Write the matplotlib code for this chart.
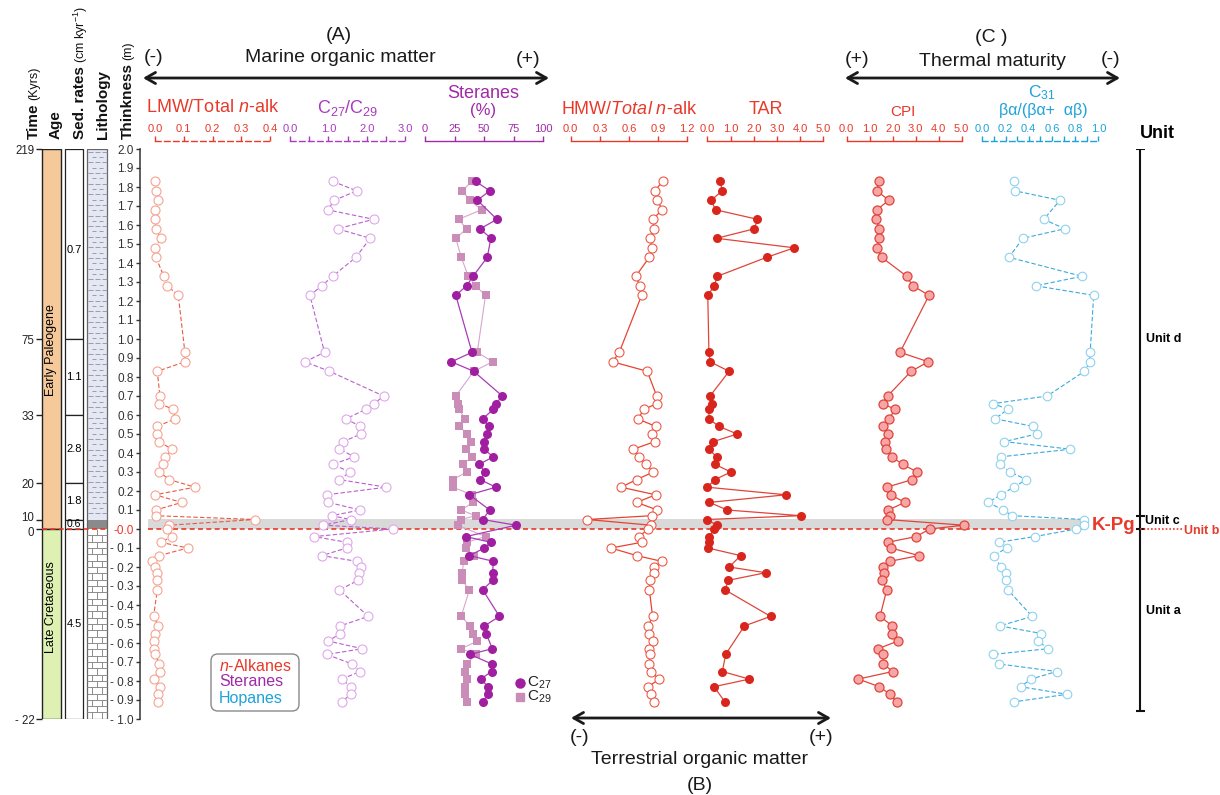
import numpy as np
import matplotlib
matplotlib.use('Agg')
import matplotlib.pyplot as plt
import matplotlib.transforms as mtransforms
from matplotlib import font_manager as fm
from matplotlib.patches import Rectangle, FancyBboxPatch

W, H = 1220, 795
nan = np.nan

# ---------------- data ----------------
DEPTH = [1.83, 1.78, 1.73, 1.68, 1.63, 1.58, 1.53, 1.48, 1.43, 1.33, 1.28, 1.23,
         0.93, 0.88, 0.83, 0.70, 0.66, 0.63, 0.58, 0.54, 0.50, 0.46, 0.42, 0.38,
         0.34, 0.30, 0.26, 0.22, 0.18, 0.14, 0.10, 0.07, 0.05, 0.02, 0.00, -0.04,
         -0.07, -0.10, -0.14, -0.17, -0.20, -0.23, -0.27, -0.32, -0.46, -0.51, -0.55,
         -0.59, -0.63, -0.66, -0.71, -0.75, -0.79, -0.83, -0.87, -0.91]

LMW = [0.00, 0.003, 0.012, 0.00, 0.00, 0.003, 0.020, 0.00, 0.003, 0.031, 0.043, 0.081,
       0.104, 0.104, 0.008, 0.017, 0.015, 0.064, 0.070, 0.008, 0.008, 0.013, 0.060, 0.035,
       0.027, 0.015, 0.050, 0.139, 0.00, 0.093, 0.003, 0.003, 0.348, 0.050, 0.040, 0.058,
       0.020, 0.114, 0.015, -0.010, 0.00, 0.008, 0.008, 0.008, -0.005, 0.012, 0.00,
       -0.003, -0.003, 0.00, 0.015, 0.017, -0.003, 0.017, 0.012, 0.012]

C27_C29 = [1.11, 1.74, 1.16, 0.98, 2.18, 1.24, 2.09, nan, 1.72, 1.11, 0.83, 0.52,
           0.90, 0.39, 1.03, 2.44, 2.20, 1.98, 1.46, 1.83, 1.85, 1.39, 1.29, 1.68,
           1.11, 1.57, 1.29, 2.51, 0.96, 1.00, 1.83, 1.09, 1.58, 0.87, 2.68, 0.63,
           1.48, 1.48, 0.83, 1.74, 1.85, 1.80, 1.78, 1.29, 2.04, 1.31, 1.31,
           1.00, 1.89, 0.96, 1.61, 1.83, 1.35, 1.58, 1.58, 1.35]

STER_C27 = [42.8, 54.9, 44.3, nan, 61.0, 46.7, 55.8, nan, 52.8, 40.7, 35.2, 26.1,
            39.8, 22.4, 41.3, 65.5, 60.1, 57.9, 48.9, 54.3, 52.8, 49.8, 49.8, 57.9,
            45.8, 51.0, 46.7, 60.1, 37.6, nan, 54.9, nan, 48.9, 77.1, nan, 34.6,
            55.8, 50.4, 37.6, 57.9, nan, 57.3, 57.3, 48.9, 63.1, 50.4, 51.9,
            nan, 57.0, 38.2, 56.4, 56.4, 47.3, 53.4, 53.4, 48.9]

STER_C29 = [39.8, 31.5, 38.2, 47.9, 28.5, 35.2, 26.1, nan, 30.7, 36.7, 42.8, 51.3,
            44.3, 57.3, 41.3, 26.1, 27.6, 29.1, 33.6, 29.1, 35.8, 38.8, 34.6, 39.8,
            32.2, 35.2, 23.7, 23.7, 39.8, 40.7, 30.7, 42.8, 30.7, 27.6, nan, 51.3,
            35.2, 34.6, 41.3, 32.8, nan, 31.5, 31.5, 37.6, 30.7, 38.2, 40.7,
            44.3, 30.7, 42.8, 35.2, 33.6, 35.2, 33.6, 33.6, 35.2]

HMW = [0.946, 0.867, 0.891, 0.943, 0.843, 0.857, 0.816, 0.84, 0.809, 0.669, 0.713, 0.73,
       0.50, 0.432, 0.788, 0.885, 0.885, 0.757, 0.689, 0.874, 0.833, 0.867, 0.644, 0.703,
       0.775, 0.85, 0.679, 0.517, 0.874, 0.679, 0.891, 0.833, 0.171, 0.823, 0.798, 0.703,
       0.73, 0.415, 0.679, 0.936, 0.86, 0.86, 0.816, 0.809, 0.843, 0.798, 0.805,
       0.843, 0.809, 0.816, 0.809, 0.823, 0.912, 0.798, 0.826, 0.857]

TAR = [0.55, 0.65, 0.16, 0.36, 2.16, 2.03, 0.40, 3.75, 2.56, 0.43, 0.30, 0.02,
       0.07, 0.12, 0.94, 0.12, 0.22, 0.07, 0.07, 0.50, 1.29, 0.26, 0.07, 0.40,
       0.33, 1.02, 0.33, 0.00, 3.39, 0.09, 0.86, 4.02, 0.00, 0.40, 0.29, 0.09,
       0.09, 0.02, 1.44, nan, 0.94, 2.52, 0.91, 0.76, 2.73, 1.60, nan,
       nan, nan, 0.79, nan, 0.65, 1.81, 0.29, nan, 0.76]

CPI = [1.40, 1.30, 1.84, 1.30, 1.27, 1.42, 1.42, 1.33, 1.52, 2.61, 2.87, 3.58,
       2.32, 3.55, 2.80, 1.78, 1.56, 2.10, 1.85, 1.56, 1.81, 1.67, 1.70, 1.96,
       2.43, 3.07, 2.85, 1.74, 1.91, 2.53, 1.81, 1.88, 1.74, 5.10, 3.62, 3.01,
       1.78, 1.93, 3.14, 1.88, 1.56, 1.64, 1.55, 1.74, 1.45, 1.98, 1.96,
       2.22, 1.37, 1.59, 1.59, 2.00, 0.50, 1.42, 1.88, 2.17]

HOP = [0.27, 0.28, 0.67, nan, 0.53, 0.71, 0.35, nan, 0.23, 0.86, 0.46, 0.96,
       0.93, 0.93, 0.88, 0.56, 0.095, 0.22, 0.11, 0.44, 0.47, 0.19, 0.76, 0.16,
       0.15, 0.24, 0.38, 0.27, 0.16, 0.05, 0.18, 0.26, 0.88, 0.88, 0.81, 0.45,
       0.14, 0.21, 0.10, nan, 0.16, 0.20, 0.20, 0.22, 0.43, 0.15, 0.51,
       0.48, 0.57, 0.09, 0.14, 0.64, 0.42, 0.33, 0.73, 0.27]

TIME_DEPTH = [2.0, 1.0, 0.6, 0.24, 0.05, 0.0, -1.0]
TIME_LABELS = ['219', '75', '33', '20', '10', '0', '- 22']
SED_BOUNDS = [2.0, 1.0, 0.6, 0.24, 0.05, 0.0, -1.0]
SED_RATES = ['0.7', '1.1', '2.8', '1.8', '0.6', '4.5']
UNIT_BOUNDS = [2.0, 0.07, 0.0, -0.96]

# ---------------- fonts ----------------
def has_font(name):
    try:
        fm.findfont(fm.FontProperties(family=name), fallback_to_default=False)
        return True
    except Exception:
        return False

MAIN = 'Liberation Sans' if has_font('Liberation Sans') else 'DejaVu Sans'
NARROW = 'Liberation Sans Narrow' if has_font('Liberation Sans Narrow') else MAIN
plt.rcParams['font.family'] = [MAIN, 'DejaVu Sans']
plt.rcParams['mathtext.fontset'] = 'custom'
plt.rcParams['mathtext.rm'] = MAIN
plt.rcParams['mathtext.it'] = MAIN + ':italic'
plt.rcParams['mathtext.bf'] = MAIN + ':bold'

RED = '#E8392A'
PURP = '#A93BBE'
STPURP = '#A02AA8'
BLUE = '#1EA2DA'

fig = plt.figure(figsize=(W / 100, H / 100), dpi=100)
fig.patch.set_facecolor('white')

Y0, Y1 = 149, 719   # pixel rows of depth 2.0 and -1.0


def px_ax(x0, x1, y0=Y0, y1=Y1, z=2):
    ax = fig.add_axes([x0 / W, 1 - y1 / H, (x1 - x0) / W, (y1 - y0) / H], zorder=z)
    ax.patch.set_visible(False)
    ax.set_ylim(-1.0, 2.0)
    return ax


# ---------------- background band ----------------
band = px_ax(148, 1082, z=1)
band.set_xlim(0, 1)
band.axhspan(0.0, 0.055, color='#D9D9D9', lw=0)
band.axhline(0.0, color=RED, ls=(0, (3, 2)), lw=1.2)
band.axis('off')

# ---------------- stratigraphic columns ----------------
st = px_ax(0, 140, z=2)
st.set_xlim(0, 140)
for s in ['right', 'top', 'bottom']:
    st.spines[s].set_visible(False)
st.spines['left'].set_position(('data', 42))
st.spines['left'].set_visible(False)
st.set_xticks([])
st.set_yticks(TIME_DEPTH)
st.set_yticklabels(TIME_LABELS)
st.tick_params(axis='y', direction='out', length=4.5, width=1, labelsize=8.3, pad=1,
               colors='#222222')
for lab, txt in zip(st.get_yticklabels(), TIME_LABELS):
    if txt == '10':
        lab.set_transform(lab.get_transform() +
                          mtransforms.ScaledTranslation(0, 2.5 / 72, fig.dpi_scale_trans))
    elif txt == '0':
        lab.set_transform(lab.get_transform() +
                          mtransforms.ScaledTranslation(0, -2.0 / 72, fig.dpi_scale_trans))
# Age
st.add_patch(Rectangle((42, 0.0), 18.5, 2.0, fc='#F6C99A', ec='#222', lw=1))
st.add_patch(Rectangle((42, -1.0), 18.5, 1.0, fc='#DFF0B3', ec='#222', lw=1))
st.text(51.2, 0.94, 'Early Paleogene', rotation=90, ha='center', va='center', fontsize=9)
st.text(51.2, -0.41, 'Late Cretaceous', rotation=90, ha='center', va='center', fontsize=9)
# Sed rates
for top, bot, lab in zip(SED_BOUNDS[:-1], SED_BOUNDS[1:], SED_RATES):
    st.add_patch(Rectangle((64.7, bot), 18.6, top - bot, fc='white', ec='#222', lw=0.9))
    yc = (top + bot) / 2
    if lab == '0.7':
        yc = 1.47
    st.text(74, yc, lab, ha='center', va='center', fontsize=8 if lab != '0.6' else 7.5)
# Lithology
lx0, lx1 = 87.3, 107.3
st.add_patch(Rectangle((lx0, 0.05), lx1 - lx0, 1.95, fc='#E5E8F2', ec='none'))
rows = np.arange(2.0 - 0.014, 0.06, -0.028)
for i, yv in enumerate(rows):
    off = 0 if i % 2 == 0 else 3.5
    xs = np.arange(lx0 + 1 + off, lx1 - 3, 7.0)
    st.hlines([yv] * len(xs), xs, xs + 4.5, color='#8890AA', lw=0.6)
st.add_patch(Rectangle((lx0, 0.0), lx1 - lx0, 0.05, fc='#8A8A8A', ec='none'))
brick = 0.0333
for i in range(30):
    ytop = -i * brick
    st.hlines(ytop - brick, lx0, lx1, color='#8C8C8C', lw=0.7)
    if i % 2 == 0:
        st.vlines([lx0 + 10], ytop - brick, ytop, color='#8C8C8C', lw=0.7)
    else:
        st.vlines([lx0 + 5, lx0 + 15], ytop - brick, ytop, color='#8C8C8C', lw=0.7)
st.add_patch(Rectangle((lx0, -1.0), lx1 - lx0, 3.0, fc='none', ec='#666', lw=0.9))
st.hlines(0.0, 42, 107, color=RED, ls=(0, (3, 2)), lw=1.2, zorder=5)

# ---------------- thickness axis ----------------
th = px_ax(140, 141, z=3)
th.set_xlim(0, 1)
for s in ['right', 'top', 'bottom']:
    th.spines[s].set_visible(False)
th.spines['left'].set_color('#333')
th.spines['left'].set_linewidth(1.1)
th.set_xticks([])
tv = np.round(np.arange(-1.0, 2.001, 0.1), 1)
th.set_yticks(tv)
th.set_yticklabels([('%.1f' % v) if v >= 0 else ('- %.1f' % -v) for v in tv])
th.tick_params(axis='y', direction='out', length=3, width=1, labelsize=8.5, pad=1.5,
               colors='#333')
for lab, v in zip(th.get_yticklabels(), tv):
    lab.set_fontfamily(NARROW)
    if abs(v) < 1e-9:
        lab.set_color(RED)


# ---------------- panels ----------------
def panel(x0, x1, lo, hi, ticks, labels, color, dashed=False, minor=None):
    ax = px_ax(x0, x1, z=3)
    ax.set_xlim(lo, hi)
    for s in ['left', 'right', 'bottom']:
        ax.spines[s].set_visible(False)
    sp = ax.spines['top']
    sp.set_position(('outward', 8 * 0.72))
    sp.set_color(color)
    sp.set_linewidth(1.0)
    if dashed:
        sp.set_linestyle((0, (4, 2.5)))
    ax.xaxis.set_ticks_position('top')
    ax.set_xticks(ticks)
    ax.set_xticklabels(labels)
    if minor is not None:
        ax.set_xticks(minor, minor=True)
    ax.tick_params(axis='x', which='both', direction='out', length=3.6, width=1,
                   colors=color, labelsize=8, pad=1.2)
    ax.set_yticks([])
    for lab in ax.get_xticklabels():
        lab.set_fontfamily(NARROW)
    return ax


def draw(ax, vals, **kw):
    v = np.asarray(vals, float)
    d = np.asarray(DEPTH, float)
    m = ~np.isnan(v)
    ax.plot(v[m], d[m], clip_on=False, **kw)


a1 = panel(155, 270, 0, 0.4, [0, 0.1, 0.2, 0.3, 0.4], ['0.0', '0.1', '0.2', '0.3', '0.4'],
           RED, dashed=True)
draw(a1, LMW, color='#E85A42', ls=(0, (4, 2)), lw=0.8, marker='o', ms=6.5,
     mfc='white', mec='#F6A493', mew=0.8)

a2 = panel(290, 405, 0, 3.0, [0, 1, 2, 3], ['0.0', '1.0', '2.0', '3.0'], PURP, dashed=True,
           minor=[0.5, 1.5, 2.5])
draw(a2, C27_C29, color='#B860CC', ls=(0, (4, 2)), lw=0.8, marker='o', ms=6.5,
     mfc='white', mec='#DFA8EA', mew=0.8)

a3 = panel(425, 543, 0, 100, [0, 25, 50, 75, 100], ['0', '25', '50', '75', '100'], STPURP)
draw(a3, STER_C29, color='#D8A6CC', lw=0.8, marker='s', ms=5.5, mfc='#C98DB8',
     mec='#C98DB8', mew=0)
draw(a3, STER_C27, color='#A83CB8', lw=0.9, marker='o', ms=6.5, mfc='#A01EA0',
     mec='#A01EA0', mew=0)

a4 = panel(570.7, 687.3, 0, 1.2, [0, 0.3, 0.6, 0.9, 1.2], ['0.0', '0.3', '0.6', '0.9', '1.2'],
           RED)
draw(a4, HMW, color='#E8432F', lw=0.9, marker='o', ms=6.5, mfc='white', mec='#EE5A48',
     mew=0.8)

a5 = panel(707.3, 823.3, 0, 5.0, [0, 1, 2, 3, 4, 5], ['0.0', '1.0', '2.0', '3.0', '4.0', '5.0'],
           RED)
draw(a5, TAR, color='#E0453A', lw=0.9, marker='o', ms=6.5, mfc='#D9261C', mec='#D9261C',
     mew=0)

a6 = panel(846.7, 961.7, 0, 5.0, [0, 1, 2, 3, 4, 5], ['0.0', '1.0', '2.0', '3.0', '4.0', '5.0'],
           RED)
draw(a6, CPI, color='#E0453A', lw=0.9, marker='o', ms=6.5, mfc='#F6A6A6', mec='#E0453A',
     mew=0.9)

a7 = panel(982.3, 1098.3, 0, 1.0, [0, 0.2, 0.4, 0.6, 0.8, 1.0],
           ['0.0', '0.2', '0.4', '0.6', '0.8', '1.0'], BLUE, dashed=True,
           minor=[0.1, 0.3, 0.5, 0.7, 0.9])
draw(a7, HOP, color='#3AAADC', ls=(0, (4, 2)), lw=0.8, marker='o', ms=6.2, mfc='white',
     mec='#8ED2F0', mew=0.8)

# ---------------- units column ----------------
un = px_ax(1120, 1220, z=3)
un.set_xlim(1120, 1220)
un.axis('off')
un.vlines(1140, UNIT_BOUNDS[-1], UNIT_BOUNDS[0], color='#111', lw=1.5)
un.hlines(UNIT_BOUNDS, 1135.5, 1144.5, color='#111', lw=1.5)
un.text(1146, 1.0, 'Unit d', fontsize=9, fontweight='bold', ha='left', va='center')
un.text(1145, 0.04, 'Unit c', fontsize=9, fontweight='bold', ha='left', va='center')
un.text(1146, -0.43, 'Unit a', fontsize=9, fontweight='bold', ha='left', va='center')
un.text(1184, -0.012, 'Unit b', fontsize=9, fontweight='bold', ha='left', va='center',
        color=RED)
un.hlines(-0.002, 1140, 1183, color=RED, ls=(0, (1, 1.2)), lw=1.2)

# ---------------- decorations / text ----------------
dc = fig.add_axes([0, 0, 1, 1], zorder=5)
dc.set_xlim(0, W)
dc.set_ylim(H, 0)
dc.axis('off')
dc.patch.set_visible(False)

def arrow(x0, x1, y):
    dc.annotate('', xy=(x0, y), xytext=(x1, y),
                arrowprops=dict(arrowstyle='<->,head_length=0.7,head_width=0.4', lw=2,
                                color='#1a1a1a', shrinkA=0, shrinkB=0))

arrow(143, 549, 78)
arrow(845, 1120, 78)
arrow(571, 831, 718)
T = dict(ha='center', va='center', color='#1a1a1a')
dc.text(339, 35, '(A)', fontsize=14, **T)
dc.text(340, 57, 'Marine organic matter', fontsize=14, **T)
dc.text(154, 58, '(-)', fontsize=14, **T)
dc.text(528, 59, '(+)', fontsize=14, **T)
dc.text(991, 37, '(C )', fontsize=14, **T)
dc.text(992, 61, 'Thermal maturity', fontsize=14, **T)
dc.text(857, 59, '(+)', fontsize=14, **T)
dc.text(1111, 59, '(-)', fontsize=14, **T)
dc.text(580, 738, '(-)', fontsize=14, **T)
dc.text(821, 738, '(+)', fontsize=14, **T)
dc.text(700, 760, 'Terrestrial organic matter', fontsize=14, **T)
dc.text(700, 785, '(B)', fontsize=14, **T)

dc.text(213, 108, r'LMW/Total $\mathit{n}$-alk', fontsize=13, color=RED, ha='center', va='center')
dc.text(348, 108, r'C$_{27}$/C$_{29}$', fontsize=13, color=PURP, ha='center', va='center')
dc.text(483, 93, 'Steranes', fontsize=13, color=STPURP, ha='center', va='center')
dc.text(483, 111, '(%)', fontsize=12, color=STPURP, ha='center', va='center')
dc.text(629, 110, r'HMW/$\mathit{Total\ n}$-alk', fontsize=13, color=RED, ha='center', va='center')
dc.text(766, 110, 'TAR', fontsize=13, color=RED, ha='center', va='center')
dc.text(903, 112, 'CPI', fontsize=11, color=RED, ha='center', va='center')
dc.text(1042, 93, r'C$_{31}$', fontsize=12.5, color=BLUE, ha='center', va='center')
dc.text(1043, 110, 'βα/(βα+  αβ)', fontsize=11.5, color=BLUE, ha='center', va='center')
dc.text(1157, 133, 'Unit', fontsize=13, fontweight='bold', ha='center', va='center')
dc.text(1114, 525, 'K-Pg', fontsize=13.5, fontweight='bold', color=RED, ha='center',
        va='center')

# rotated column headers
renderer = fig.canvas.get_renderer()

def header(x, main, sub, size=11):
    t = dc.text(x, 139, main, rotation=90, ha='center', va='bottom', fontsize=size,
                fontweight='bold', color='#111')
    if sub:
        ext = t.get_window_extent(renderer)
        ytop = H - ext.y1
        dc.text(x + 0.5, ytop - 3, sub, rotation=90, ha='center', va='bottom', fontsize=9,
                color='#111')

header(34, 'Time', '(Kyrs)')
header(56, 'Age', None)
header(80, 'Sed. rates', r'(cm kyr$^{-1}$)')
header(103, 'Lithology', None)
header(128, 'Thinkness', '(m)')

# legend box
dc.add_patch(FancyBboxPatch((211, 654), 88, 57, boxstyle='round,pad=0,rounding_size=7',
                            fc='white', ec='#8a8a8a', lw=1.0, zorder=1))
dc.text(219, 666, r'$\mathit{n}$-Alkanes', fontsize=11.5, color=RED, ha='left', va='center')
dc.text(219, 682, 'Steranes', fontsize=11.5, color=STPURP, ha='left', va='center')
dc.text(219, 698, 'Hopanes', fontsize=11.5, color=BLUE, ha='left', va='center')

# steranes legend
dc.plot([520], [683], 'o', ms=6.5, mfc='#A01EA0', mec='#A01EA0')
dc.plot([520], [697], 's', ms=5.5, mfc='#C98DB8', mec='#C98DB8')
dc.text(527, 683, r'C$_{27}$', fontsize=11, ha='left', va='center', color='#222')
dc.text(527, 697, r'C$_{29}$', fontsize=11, ha='left', va='center', color='#222')

fig.savefig('out.png', dpi=100, facecolor='white')
